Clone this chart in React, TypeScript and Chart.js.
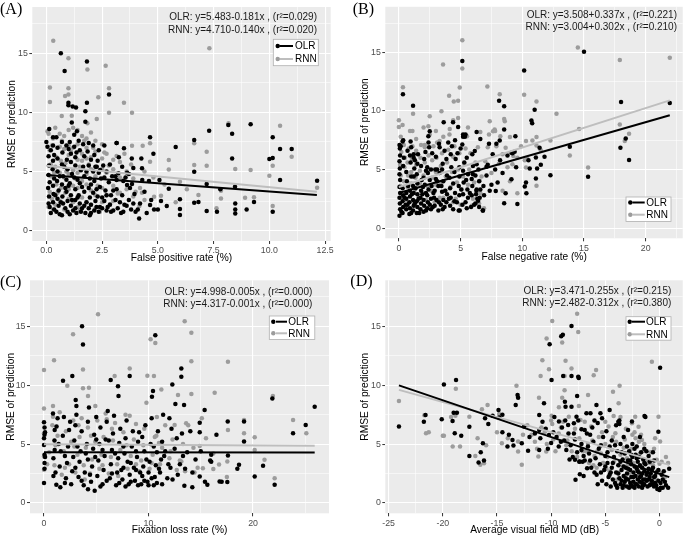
import React, { useEffect, useRef } from 'react';
import { Chart, registerables } from 'chart.js';
Chart.register(...registerables);

type Pt = [number, number];

// ---------- shared ----------
const yMajors = [0, 5, 10, 15];
const yTitle = 'RMSE of prediction';
const legendNames = ['OLR', 'RNN'];

// ---------- Panel A : False positive rate ----------
const fpXTicks = [0, 2.5, 5, 7.5, 10, 12.5];
const fpOlr: Pt[] = [
  [0.65,15.0],[0.82,13.5],[1.82,14.3],[1.82,10.8],[2.81,11.5],[0.99,10.8],[0.99,10.6],[1.18,10.5],[1.33,10.4],[1.14,9.15],[1.75,10.1],[1.75,9.2],[0.13,8.6],[0.0,7.5],[0.3,7.9],[1.37,8.4],[3.15,7.4],[4.65,7.9],[4.8,6.5],[5.8,7.07],[6.63,7.66],[7.3,8.45],[8.16,8.93],[8.33,8.2],[9.16,9.0],[8.33,6.1],[10.15,7.9],[10.0,6.05],[10.15,6.15],[10.48,6.9],[11.0,6.9],[10.48,4.28],[12.14,4.22],[6.63,4.98],[7.19,3.94],[7.19,1.66],[6.63,2.37],[6.82,2.42],[7.65,1.6],[7.8,3.5],[8.46,3.72],[8.47,2.3],[8.47,1.8],[8.47,1.46],[8.98,1.8],[9.31,2.42],[10.15,1.6],[5.99,2.65],[5.99,1.83],[5.99,1.32],[5.49,3.55],[5.4,2.08],[5.14,2.5],[5.0,1.8],[4.83,1.8],[4.65,2.17],[4.29,5.27],[4.3,4.28],[4.16,1.04],[3.84,3.94],[4.26,6.1],[3.83,6.1],[3.48,6.96],[3.15,4.28],[3.23,4.85],[3.62,4.9],[3.62,3.86],[2.41,5.13],[2.26,5.4],[5.07,4.28],[4.6,4.2],[4.7,2.6],[4.2,2.3],[4.0,1.6],[3.9,2.3],
  [0.05,7.1],[0.1,6.3],[0.12,5.5],[0.1,4.7],[0.15,4.1],[0.08,3.6],[0.12,2.9],[0.1,2.3],[0.15,2.0],[0.2,1.5],
  [0.3,7.2],[0.35,6.4],[0.3,5.9],[0.28,5.2],[0.35,4.4],[0.3,3.8],[0.32,3.1],[0.3,2.4],[0.35,1.8],
  [0.45,7.9],[0.5,7.0],[0.5,6.1],[0.5,5.0],[0.48,4.2],[0.55,3.4],[0.5,2.7],[0.55,2.1],[0.6,1.4],
  [0.7,7.5],[0.72,6.6],[0.7,5.6],[0.75,4.6],[0.7,3.9],[0.72,2.9],[0.75,2.3],[0.7,1.3],
  [0.9,7.2],[0.92,6.0],[0.95,5.2],[0.9,4.3],[0.9,3.3],[0.95,2.5],[0.95,1.6],
  [1.05,7.5],[1.1,6.5],[1.1,5.8],[1.05,4.0],[1.1,3.0],[1.1,2.1],[1.05,1.4],
  [1.25,8.1],[1.25,7.1],[1.3,6.2],[1.3,5.5],[1.25,4.5],[1.3,3.5],[1.3,2.6],[1.3,1.9],[1.35,1.5],
  [1.45,7.6],[1.5,6.8],[1.5,4.0],[1.45,3.0],[1.5,2.3],[1.55,1.6],
  [1.65,7.3],[1.7,6.3],[1.65,5.4],[1.7,4.6],[1.7,3.3],[1.7,2.1],[1.75,1.5],
  [1.9,7.4],[1.85,6.7],[1.9,5.5],[1.95,4.4],[1.9,3.6],[1.95,2.8],[1.9,1.9],[1.95,1.3],
  [2.1,7.2],[2.15,6.4],[2.1,5.0],[2.15,4.2],[2.1,3.2],[2.2,2.5],[2.15,1.7],
  [2.35,6.8],[2.3,5.9],[2.35,4.9],[2.4,3.7],[2.3,2.9],[2.4,2.0],[2.35,1.6],
  [2.6,7.2],[2.55,5.5],[2.6,4.5],[2.65,3.4],[2.6,2.5],[2.7,1.7],
  [2.85,5.6],[2.8,4.1],[2.9,3.0],[2.85,2.2],[2.9,1.6],
  [3.1,4.6],[3.15,3.5],[3.1,2.6],[3.2,1.9],[3.15,7.4],
  [3.4,5.4],[3.45,4.2],[3.4,3.0],[3.5,2.2],[3.45,1.6],
  [3.7,4.8],[3.75,3.6],[3.7,2.6],[3.8,1.8],
  [0.2,6.8],[0.4,3.0],[0.45,1.6],[0.6,4.6],[0.65,2.4],[0.8,5.4],[0.85,3.6],[0.85,1.9],[1.0,6.9],[1.0,3.8],[1.15,4.8],[1.15,2.6],[1.2,1.7],[1.35,6.6],[1.4,4.3],[1.4,2.8],[1.55,5.1],[1.6,3.7],[1.6,1.9],[1.8,5.0],[1.8,2.4],[2.0,6.0],[2.0,3.9],[2.0,2.2],[2.0,1.5],[2.2,5.4],[2.25,3.5],[2.25,2.0],[2.45,4.4],[2.5,2.8],[2.5,1.9],[2.7,5.0],[2.7,3.0],[2.75,2.0],[2.95,4.6],[3.0,3.4],[3.0,1.7],[3.25,6.2],[3.3,2.4],[3.35,1.5],[3.55,4.5],[3.6,2.1],[3.9,5.3],[3.95,3.1],[4.1,1.8],[4.4,3.3],[4.5,1.5]
];
const fpRnn: Pt[] = [
  [0.31,16.05],[0.16,12.1],[0.16,10.87],[0.99,14.56],[0.99,12.03],[0.99,11.5],[0.84,11.38],[0.69,9.7],[1.14,9.72],[1.84,13.63],[2.66,13.94],[2.81,12.03],[2.33,11.27],[3.48,10.82],[3.84,9.97],[2.81,9.97],[1.84,9.07],[2.26,9.44],[7.31,15.41],[8.17,9.07],[10.48,8.87],[11.0,6.25],[10.0,4.65],[10.15,5.49],[10.15,2.08],[12.14,3.63],[9.16,5.13],[8.47,5.21],[6.63,7.38],[6.63,5.55],[7.19,6.68],[7.19,5.49],[7.83,2.73],[7.83,3.38],[7.63,1.89],[5.99,4.14],[5.49,5.97],[5.49,5.18],[4.65,7.38],[4.65,5.83],[4.32,7.18],[3.84,7.18],[3.15,6.31],[3.48,4.28],[4.83,2.87],[5.14,2.96],[4.29,3.21],[4.17,2.08],[6.82,3.01],[8.91,2.79],[9.31,2.82],[2.86,2.25],[3.2,3.15],
  [0.05,8.4],[0.1,8.2],[0.15,6.8],[0.2,5.6],[0.2,4.6],[0.15,3.3],[0.25,2.7],[0.3,7.8],[0.4,8.7],[0.45,6.2],[0.4,5.4],[0.45,3.9],[0.4,2.2],[0.6,8.2],[0.6,7.1],[0.65,5.9],[0.6,4.9],[0.65,3.6],[0.6,2.5],[0.8,8.0],[0.8,6.9],[0.85,5.7],[0.8,4.5],[0.85,3.2],[0.8,1.8],[1.0,8.5],[1.0,7.2],[1.0,6.4],[1.0,4.8],[1.0,3.5],[1.0,2.7],[1.2,8.7],[1.2,7.0],[1.2,5.1],[1.2,3.8],[1.2,2.4],[1.4,8.5],[1.4,7.3],[1.4,6.0],[1.4,4.9],[1.4,3.6],[1.4,2.0],[1.6,8.0],[1.6,6.5],[1.6,5.9],[1.6,4.2],[1.6,2.8],[1.8,7.8],[1.8,7.0],[1.8,6.1],[1.8,4.8],[1.8,3.9],[1.8,2.4],[2.0,8.3],[2.0,6.2],[2.0,5.2],[2.0,3.4],[2.0,2.2],[2.2,7.6],[2.2,6.7],[2.2,4.6],[2.2,3.0],[2.2,1.9],[2.5,7.3],[2.5,6.1],[2.5,5.2],[2.5,3.6],[2.5,2.4],[2.7,6.5],[2.7,4.9],[2.7,3.0],[3.0,6.0],[3.0,5.2],[3.0,3.8],[3.0,2.5],[3.3,5.8],[3.3,4.5],[3.3,3.2],[3.6,5.0],[3.6,3.5],[3.9,4.4],[3.9,2.9],[4.2,3.6],[4.4,2.6],
  [0.25,7.2],[0.35,4.9],[0.5,3.2],[0.7,7.6],[0.9,5.0],[1.1,6.7],[1.3,4.4],[1.5,5.4],[1.7,7.6],[1.9,5.6],[2.1,7.0],[2.3,3.8],[2.6,6.6],[2.8,5.5],[3.1,4.4],[3.5,6.5],[3.8,5.6],[4.0,3.3],[4.4,5.0],[4.8,4.5],[5.3,3.9],[5.8,2.4],[6.3,3.5],[0.1,2.0],[0.3,1.8],[1.5,1.7],[2.4,1.6]
];
const fpBlackFit = [4.710, -0.140];
const fpGrayFit = [5.483, -0.181];
const fpFitRange = [0, 12.13];
const fpNotes = ['OLR: y=5.483-0.181x , (r\u00B2=0.029)', 'RNN: y=4.710-0.140x , (r\u00B2=0.020)'];

// ---------- Panel B : False negative rate ----------
const fnXTicks = [0, 5, 10, 15, 20];
const fnOlr: Pt[] = [
  [15.0,15.05],[5.14,14.27],[10.15,13.45],[0.33,11.44],[1.15,10.45],[8.12,10.88],[8.53,10.4],[11.0,10.11],[10.74,9.18],[10.8,8.95],[4.39,9.04],[3.63,9.04],[4.8,8.64],[2.5,8.28],[2.39,7.85],[5.4,8.0],[8.53,8.42],[8.17,7.49],[7.9,7.2],[9.12,6.44],[9.38,6.53],[9.44,7.85],[11.4,6.86],[11.8,6.1],[11.1,6.02],[11.1,4.24],[10.2,3.56],[10.33,2.97],[9.12,4.18],[8.65,2.97],[8.53,2.12],[9.6,2.06],[12.28,4.52],[13.85,6.95],[15.33,4.38],[17.95,6.86],[18.0,10.76],[18.38,7.66],[18.65,5.82],[21.95,10.68],[7.1,5.25],[7.36,3.19],[7.85,3.16],[6.81,1.5],[6.42,2.34],[6.28,3.19],[6.0,4.6],[6.3,5.45],[6.15,6.58],[5.14,7.15],[5.2,8.0],[4.93,1.5],
  [0.05,1.05],[0.1,1.6],[0.08,2.1],[0.05,2.6],[0.1,3.0],[0.05,3.5],[0.1,4.1],[0.05,4.6],[0.08,5.1],[0.05,5.7],[0.1,6.2],[0.08,6.8],[0.05,7.1],[0.15,7.0],
  [0.3,1.3],[0.35,1.8],[0.3,2.3],[0.35,2.8],[0.3,3.4],[0.35,5.3],[0.3,7.4],[0.35,7.5],
  [0.6,1.6],[0.55,2.0],[0.6,2.5],[0.6,3.0],[0.65,4.0],[0.6,4.8],
  [0.85,1.2],[0.9,1.7],[0.85,2.2],[0.9,2.7],[0.9,3.2],[0.95,5.6],[0.9,6.2],[0.95,7.4],[1.0,6.9],
  [1.15,1.5],[1.2,1.9],[1.15,2.4],[1.2,3.0],[1.15,3.6],[1.2,4.4],[1.25,5.1],[1.2,6.0],[1.2,6.3],[1.3,5.8],
  [1.45,1.3],[1.5,1.8],[1.45,2.3],[1.5,2.9],[1.5,3.8],[1.45,4.6],[1.55,6.3],
  [1.75,1.6],[1.8,2.1],[1.75,2.6],[1.8,3.2],[1.85,4.1],[1.8,5.3],
  [2.0,1.4],[2.05,1.9],[2.0,2.4],[2.1,3.7],[2.0,4.3],[2.15,6.5],[2.05,5.9],
  [2.3,1.7],[2.35,2.2],[2.3,2.8],[2.4,3.3],[2.35,4.7],[2.3,5.2],[2.4,7.3],[2.45,6.9],
  [2.6,1.6],[2.6,2.5],[2.65,3.6],[2.6,5.0],[2.7,6.4],
  [2.9,1.9],[2.85,2.6],[2.9,3.2],[3.0,4.2],[2.95,5.0],[3.0,6.1],[3.1,5.0],
  [3.2,1.5],[3.25,2.2],[3.2,3.6],[3.3,4.7],[3.3,6.9],[3.25,7.2],
  [3.55,1.6],[3.6,2.4],[3.5,3.1],[3.6,4.0],[3.55,5.5],[3.7,6.6],
  [3.85,2.2],[3.9,2.9],[3.9,4.5],[3.85,5.9],[4.0,7.3],
  [4.15,1.9],[4.2,2.6],[4.15,3.4],[4.25,5.2],[4.2,6.3],[4.3,7.0],
  [4.5,2.3],[4.55,3.0],[4.5,4.8],[4.6,5.9],[4.55,7.5],
  [4.85,1.5],[4.9,2.8],[4.85,3.6],[4.9,4.4],[5.0,6.8],[4.9,5.2],
  [5.15,2.0],[5.2,2.9],[5.25,3.9],[5.2,4.9],[5.3,5.6],[5.2,7.8],[5.35,7.8],
  [5.5,1.7],[5.6,2.6],[5.55,3.3],[5.5,6.0],[5.6,4.6],
  [5.85,1.8],[5.9,2.8],[5.95,3.6],[5.9,4.2],[6.0,5.3],[5.95,6.3],
  [6.2,2.1],[6.3,3.3],[6.2,4.5],[6.3,8.2],[6.25,2.9],
  [6.5,1.8],[6.55,2.6],[6.5,4.0],[6.6,7.6],[6.45,5.0],
  [6.8,1.5],[6.85,3.6],[7.1,4.5],[7.2,5.4],[7.3,7.2],[7.5,3.7],[7.6,6.3],[7.8,5.0],[8.0,3.9],[8.2,5.8],[8.4,4.7],[8.8,6.2],[9.2,6.4],[9.5,5.2],[10.3,3.9],[10.5,5.8],[10.6,5.1],[11.2,5.1],[11.5,5.4],
  [0.2,1.4],[0.45,2.6],[0.7,2.0],[0.75,3.6],[1.0,1.3],[1.05,2.9],[1.3,2.1],[1.35,3.4],[1.6,2.5],[1.65,1.3],[1.9,2.9],[1.95,3.5],[2.2,1.5],[2.2,3.0],[2.5,2.0],[2.5,4.1],[2.75,1.8],[2.8,3.0],[3.05,2.4],[3.1,4.0],[3.4,2.0],[3.45,3.6],[3.7,1.8],[3.75,3.2],[4.05,2.5],[4.1,4.3],[4.4,1.6],[4.4,3.8],[4.7,2.2],[4.75,6.4],[5.05,3.3],[5.4,2.2],[5.45,4.1],[5.75,3.0],[6.1,2.0],[6.35,2.5],[6.6,3.3],[6.9,2.8],[3.5,5.0],[2.2,4.9],[1.5,5.5],[0.7,6.6],[0.4,6.0],[1.0,4.4]
];
const fnRnn: Pt[] = [
  [5.14,16.05],[14.5,15.42],[3.58,13.98],[5.14,13.64],[0.33,12.03],[7.17,12.09],[4.93,12.0],[10.15,11.38],[8.17,11.44],[4.07,11.3],[4.45,10.82],[4.8,10.88],[11.15,10.82],[1.15,9.77],[3.45,9.97],[0.0,9.2],[0.0,8.64],[17.9,14.35],[21.95,14.55],[17.9,8.84],[18.65,8.05],[18.3,7.43],[15.33,5.17],[14.6,8.47],[13.85,6.21],[12.77,9.77],[12.28,7.49],[11.15,7.77],[10.82,7.49],[11.15,7.06],[11.5,6.64],[10.3,7.43],[10.3,5.17],[10.2,5.79],[11.15,3.62],[9.6,2.97],[9.0,7.77],[9.27,6.16],[9.2,5.45],[8.53,9.32],[8.58,9.12],[7.36,9.12],[7.63,8.28],[7.76,8.42],[8.22,7.85],[8.65,6.86],[8.4,6.3],[5.52,7.85],[4.8,9.41],[4.12,8.47],[2.5,9.55],[2.39,8.7],[2.09,7.09],[3.3,7.43],[6.55,4.04],
  [0.1,3.6],[0.15,4.5],[0.1,5.4],[0.2,6.5],[0.15,7.8],[0.4,4.0],[0.45,5.2],[0.5,6.0],[0.4,7.1],[0.7,3.5],[0.75,4.5],[0.7,5.6],[0.8,6.8],[0.9,8.3],[1.0,3.8],[1.0,4.8],[1.05,5.9],[1.1,7.0],[1.3,3.3],[1.35,4.3],[1.4,5.4],[1.4,6.6],[1.4,7.6],[1.7,3.8],[1.7,4.9],[1.75,6.0],[1.8,7.1],[2.0,3.0],[2.0,4.5],[2.1,5.6],[2.1,6.9],[2.3,3.6],[2.35,5.0],[2.4,6.2],[2.5,8.0],[2.6,3.2],[2.7,4.3],[2.7,5.8],[2.8,7.0],[3.0,3.7],[3.0,4.8],[3.05,6.0],[3.1,7.3],[3.3,2.6],[3.4,3.9],[3.4,5.3],[3.5,6.4],[3.6,7.8],[3.8,3.2],[3.8,4.4],[3.9,5.6],[4.0,6.7],[4.1,8.0],[4.2,3.5],[4.3,4.8],[4.4,6.1],[4.5,7.0],[4.6,2.5],[4.7,3.9],[4.8,5.0],[4.9,6.4],[5.1,3.3],[5.2,4.4],[5.3,5.5],[5.4,6.8],[5.6,3.7],[5.7,5.0],[5.8,6.4],[6.0,2.5],[6.1,3.9],[6.2,5.6],[6.4,6.9],[6.6,3.0],[6.7,4.4],[6.9,1.7],[7.0,5.7],[7.2,6.9],[7.5,4.7],[7.8,8.3],[8.1,5.5],[8.4,3.2],[9.0,4.0],[9.6,6.0],[10.4,5.9],
  [0.2,2.6],[0.6,2.4],[1.2,2.2],[1.6,2.6],[2.2,2.4],[2.9,2.2],[3.6,2.6],[4.4,2.2],[5.0,2.0],[5.9,1.9],[6.5,2.1],[0.3,8.8],[1.1,8.3],[2.0,8.6],[3.0,8.3],[4.4,9.2],[5.6,8.6],[6.6,8.2],[7.3,8.0],[7.9,7.0],[8.8,5.2],[9.9,7.0]
];
const fnBlackFit = [3.004, 0.302];
const fnGrayFit = [3.508, 0.337];
const fnFitRange = [0, 21.95];
const fnNotes = ['OLR: y=3.508+0.337x , (r\u00B2=0.221)', 'RNN: y=3.004+0.302x , (r\u00B2=0.210)'];

// ---------- Panel C : Fixation loss rate ----------
const flXTicks = [0, 10, 20];
const flOlr: Pt[] = [
  [3.64,15.0],[3.73,13.45],[10.65,14.24],[1.82,10.38],[2.71,10.77],[6.38,10.43],[7.08,9.92],[8.2,10.77],[12.28,10.06],[13.14,11.42],[13.14,10.71],[10.43,9.5],[10.33,9.02],[7.13,9.08],[3.03,8.74],[3.1,8.23],[13.4,8.32],[12.57,8.4],[15.37,7.89],[14.9,6.82],[14.9,6.0],[17.58,6.91],[17.6,4.03],[16.0,4.09],[15.9,3.61],[19.14,5.22],[19.14,6.91],[18.66,3.24],[18.5,2.9],[20.16,2.26],[20.96,3.16],[21.85,8.88],[23.83,5.92],[25.04,6.63],[25.9,8.18],[22.07,1.55],[17.54,1.78],[16.8,1.83],[15.63,1.55],[14.9,2.26],[14.19,1.33],[13.43,1.47],[0,1.7],[0,6.85],[0,4.93],[0,5.5],[0.86,7.6],[1.02,6.2],[1.02,4.5],[1.18,1.55],[1.56,1.33],[4.21,1.18],[4.85,1.04],
  [0.05,2.9],[0.05,3.4],[0.05,4.1],[0.05,5.8],[0.05,6.4],[0.9,2.3],[0.9,3.8],[1.0,5.3],[1.2,6.5],[1.3,7.2],[1.5,3.1],[1.6,4.4],[1.8,5.7],[1.9,7.3],[2.1,2.1],[2.2,3.4],[2.3,4.8],[2.4,6.2],[2.6,1.6],[2.7,2.7],[2.8,3.9],[2.9,5.3],[3.0,6.6],[3.1,7.5],[3.3,2.2],[3.4,3.5],[3.5,4.4],[3.6,6.1],[3.8,1.5],[3.9,2.6],[4.0,4.2],[4.1,5.0],[4.2,6.9],[4.3,8.1],[4.5,1.8],[4.6,3.1],[4.7,4.6],[4.8,5.8],[5.0,7.3],[5.1,2.3],[5.2,3.6],[5.3,5.0],[5.4,6.4],[5.6,1.6],[5.7,2.8],[5.8,4.0],[5.9,5.4],[6.0,6.9],[6.1,7.8],[6.3,2.1],[6.4,3.3],[6.5,4.5],[6.6,5.9],[6.7,7.4],[6.9,1.5],[7.0,2.6],[7.1,3.8],[7.2,5.1],[7.3,6.3],[7.5,2.0],[7.6,3.0],[7.7,4.2],[7.8,5.5],[7.9,7.0],[8.1,1.6],[8.2,2.4],[8.3,3.4],[8.4,4.8],[8.5,6.1],[8.7,1.9],[8.8,2.8],[8.9,3.9],[9.0,5.2],[9.1,6.0],[9.3,1.6],[9.4,2.3],[9.5,3.1],[9.6,4.4],[9.7,6.6],[9.9,1.8],[10.0,2.6],[10.1,3.5],[10.2,5.0],[10.3,7.2],[10.5,1.5],[10.6,2.2],[10.7,3.2],[10.8,4.3],[10.9,6.1],[11.1,2.6],[11.2,3.7],[11.3,5.2],[11.4,7.5],[11.6,4.4],[11.8,2.1],[12.0,7.2],[12.1,3.0],[12.2,6.3],[12.5,4.6],[12.8,2.4],[13.0,3.3],[13.2,5.9],[13.5,2.9],[13.7,4.3],[14.0,6.1],[14.2,2.6],[14.5,3.7],[15.0,4.4],[15.4,1.8],[16.0,3.5],[16.5,5.8],[17.0,1.8],
  [0.1,3.9],[0.1,6.0],[1.1,2.6],[1.4,5.0],[2.0,1.7],[2.5,6.9],[3.2,4.8],[3.6,1.9],[4.4,2.4],[4.9,3.9],[5.4,1.4],[5.6,4.5],[6.0,1.9],[6.2,5.3],[6.5,2.5],[6.8,4.2],[7.2,1.7],[7.4,2.8],[7.6,4.8],[7.8,1.4],[8.0,3.5],[8.3,1.8],[8.6,3.0],[8.8,4.4],[9.0,1.5],[9.2,2.6],[9.4,5.6],[9.6,1.9],[9.8,3.7],[10.0,1.5],[10.3,2.1],[10.5,4.8],[10.8,1.7],[11.0,2.9],[11.3,1.6],[11.5,4.0],[11.9,3.3],[12.3,2.0],[12.7,5.5],[13.3,4.0],[5.0,5.4],[4.2,3.7],[3.0,3.0],[2.0,4.0]
];
const flRnn: Pt[] = [
  [5.17,16.01],[2.78,14.32],[13.46,15.42],[14.1,14.46],[10.2,13.9],[10.65,13.59],[0,11.28],[0.96,12.12],[3.73,11.33],[14.1,12.04],[17.6,11.98],[2.23,9.95],[3.73,9.73],[4.3,9.78],[6.76,10.77],[8.2,11.42],[10.52,10.77],[9.89,10.8],[11.23,9.64],[12.82,9.16],[14.1,9.25],[16.33,9.36],[4.21,9.08],[4.91,8.23],[0,8.03],[0.86,8.23],[0.86,7.33],[21.9,9.08],[23.83,7.05],[25.1,5.92],[19.14,7.05],[19.14,5.92],[20.16,5.58],[20.16,4.51],[21.1,3.67],[22.07,2.11],[17.6,6.2],[17.54,3.52],[16.75,3.27],[16.2,2.88],[15.2,2.96],[15.1,7.19],[14.9,4.85],[13.6,6.77],[12.5,6.63],[13.14,3.52],[14.4,2.59],[10.75,5.7],[0,2.82],[0,3.95],[0,5.92],
  [0.5,4.3],[0.8,6.6],[1.0,3.2],[1.3,5.7],[1.5,7.7],[1.7,2.4],[1.9,4.4],[2.1,6.1],[2.4,3.3],[2.6,5.2],[2.8,7.0],[3.0,2.6],[3.2,4.1],[3.4,5.6],[3.6,7.2],[3.8,3.2],[4.0,4.7],[4.2,6.4],[4.4,2.5],[4.6,3.7],[4.9,5.2],[5.1,7.0],[5.3,2.9],[5.5,4.1],[5.7,5.6],[5.9,7.6],[6.2,2.5],[6.4,3.9],[6.6,5.3],[6.8,6.8],[7.0,3.3],[7.3,4.5],[7.6,6.0],[7.8,7.5],[8.0,2.9],[8.3,4.0],[8.6,5.4],[8.8,6.7],[9.1,2.7],[9.3,3.6],[9.5,4.9],[9.8,8.5],[10.1,2.9],[10.4,4.1],[10.6,5.6],[10.8,7.3],[11.1,3.3],[11.3,4.7],[11.6,6.6],[12.0,3.8],[12.3,5.4],[12.7,2.8],[13.0,3.6],[13.3,5.0],[13.8,6.6],[14.3,4.7],[14.7,3.0],[15.5,5.5],[16.2,4.2],[17.5,2.2],
  [0.3,3.3],[1.1,4.9],[2.0,3.0],[2.9,4.8],[3.9,2.0],[4.5,5.7],[5.6,3.2],[6.5,6.3],[7.1,2.3],[7.9,4.9],[8.8,3.3],[9.6,6.3],[10.3,3.4],[11.0,5.1],[12.1,4.4],[13.5,2.7],[8.2,7.4],[6.0,7.1],[3.3,6.6]
];
const flBlackFit = [4.317, -0.001];
const flGrayFit = [4.998, -0.005];
const flFitRange = [0, 25.9];
const flNotes = ['OLR: y=4.998-0.005x , (r\u00B2=0.000)', 'RNN: y=4.317-0.001x , (r\u00B2=0.000)'];

// ---------- Panel D : Average visual field MD ----------
const mdXTicks = [-25, -20, -15, -10, -5, 0];
const mdOlr: Pt[] = [
  [-8.12,15.03],[-8.92,14.29],[-9.07,14.15],[-10.14,13.48],[-9.96,10.43],[-8.89,10.77],[-8.12,10.77],[-7.5,10.71],[-7.45,10.6],[0.06,11.47],[-18.78,10.43],[-19.9,10.06],[-19.0,7.67],[-18.7,7.67],[-19.1,6.96],[-18.9,5.92],[-18.3,5.72],[-20.1,7.1],[-21.6,7.47],[-21.75,6.9],[-24.05,6.5],
  [-17.55,4.0],[-16.7,3.44],[-16.5,4.31],[-16.3,5.07],[-16.2,3.6],[-16.1,7.19],[-17.55,6.48],[-14.86,7.89],[-14.8,7.25],[-14.03,4.79],[-14.5,6.0],[-13.57,5.36],[-13.48,4.88],[-13.1,9.16],[-13.05,8.94],[-13.27,8.32],[-12.71,5.07],[-12.13,4.43],[-11.1,7.47],[-11.1,4.51],[-11.1,6.2],[-10.66,8.46],[-10.2,5.78],[-9.28,6.91],[-8.73,8.6],[-8.67,8.18],[-8.43,6.63],[-8.12,8.18],[-7.9,6.77],[-7.66,7.33],[-7.6,9.08],[-7.2,6.26],[-6.74,7.61],[-6.37,7.61],[-5.82,8.32],[-5.45,7.61],[-4.6,7.89],[-2.54,6.91],[-1.38,7.39],[-0.1,6.06],[-7.75,1.97],[-7.35,2.45],[-7.38,3.52],[-7.8,3.67],[-6.68,2.96],
  [-11.5,5.9],[-11.0,5.5],[-10.5,6.3],[-10.0,5.1],[-9.8,6.0],[-9.5,5.6],[-9.3,4.8],[-9.0,6.4],[-8.8,5.3],[-8.6,4.5],[-8.4,5.9],[-8.2,4.9],[-8.0,3.9],[-7.8,5.4],[-7.6,4.3],[-7.4,3.5],[-7.2,5.0],[-7.0,4.0],[-6.9,6.2],[-6.6,4.8],
  [-6.5,4.2],[-6.3,3.0],[-6.1,5.2],[-5.9,3.8],[-5.8,2.4],[-5.6,4.6],[-5.5,3.3],[-5.3,1.9],[-5.2,5.6],[-5.1,2.8],[-5.0,4.0],[-4.9,1.6],[-4.8,3.4],[-4.7,2.2],[-4.6,4.8],[-4.5,1.4],[-4.4,3.0],[-4.3,2.0],[-4.2,3.9],[-4.1,1.7],[-4.0,2.6],[-3.9,4.4],[-3.9,1.3],[-3.8,3.2],[-3.7,2.1],[-3.6,5.0],[-3.6,1.6],[-3.5,2.8],[-3.4,3.7],[-3.4,1.3],[-3.3,2.3],[-3.2,4.2],[-3.2,1.8],[-3.1,3.0],[-3.0,1.4],[-3.0,2.5],[-2.9,3.6],[-2.9,2.0],[-2.8,1.3],[-2.8,4.4],[-2.7,2.8],[-2.7,1.7],[-2.6,3.3],[-2.6,2.2],[-2.5,1.4],[-2.5,3.9],[-2.4,2.6],[-2.4,1.8],[-2.3,3.1],[-2.3,1.3],[-2.2,2.3],[-2.2,4.1],[-2.1,1.6],[-2.1,2.9],[-2.0,3.5],[-2.0,2.0],[-1.9,1.4],[-1.9,2.6],[-1.8,3.2],[-1.8,1.8],[-1.7,4.3],[-1.7,2.3],[-1.6,1.3],[-1.6,3.0],[-1.5,2.0],[-1.5,3.7],[-1.4,1.6],[-1.4,2.7],[-1.3,3.3],[-1.2,1.9],[-1.2,2.4],[-1.1,1.4],[-1.0,2.9],[-1.0,2.0],[-0.9,3.5],[-0.8,1.6],[-0.8,2.5],[-0.7,1.9],[-0.6,3.0],[-0.5,1.4],[-0.5,2.2],[-0.4,1.7],[-0.3,2.6],[-0.2,1.2],[-0.1,1.9],[0.0,1.1],[0.1,1.7],[0.2,2.4],[0.3,1.3],[0.5,1.8],[0.8,1.3],[0.9,2.9],
  [-6.9,3.6],[-7.2,4.5],[-7.0,2.3],[-6.7,5.9],[-6.2,6.4],[-5.7,6.8],[-5.3,7.2],[-4.9,6.1],[-4.4,5.3],[-4.0,6.6],[-3.7,7.0],[-3.3,5.6],[-2.9,6.2],[-2.5,5.0],[-2.1,4.8],[-1.8,5.6],[-1.4,4.6],[-1.0,4.0],[-0.6,4.3],[-3.8,6.9],[-1.3,7.3],[-3.7,6.7],
  [-5.7,1.6],[-5.4,2.6],[-5.0,3.1],[-4.6,2.4],[-4.3,3.4],[-4.0,1.5],[-3.8,2.5],[-3.5,1.9],[-3.3,3.1],[-3.1,2.1],[-2.9,2.9],[-2.7,3.6],[-2.6,1.5],[-2.4,2.2],[-2.3,4.6],[-2.2,1.6],[-2.0,2.7],[-1.9,3.9],[-1.8,2.2],[-1.6,2.5],[-1.5,1.5],[-1.4,3.4],[-1.3,2.0],[-1.1,2.6],[-0.9,1.5],[-0.9,2.2],[-0.7,2.8],[-0.6,1.6],[-0.4,2.3],[-0.3,1.5],[-0.1,2.8],[0.1,1.3],[0.3,2.0],[0.6,1.5],[-4.8,4.3],[-4.1,4.9],[-3.5,4.3],[-3.0,4.8],[-2.6,4.1],[-1.2,4.4],[-5.4,4.9],[-6.0,2.6],[-6.4,3.6],[-3.6,3.5],[-4.5,2.6],[-3.3,1.5],[-2.1,3.8],[-1.6,1.7],[-0.5,3.6],[0.4,2.7],
  [-10.8,6.9],[-10.3,4.6],[-9.7,7.3],[-9.1,5.2],[-8.7,7.0],[-8.3,3.7],[-7.9,5.9],[-7.5,7.0],[-7.1,3.5],[-6.4,5.8],[-6.0,7.0],[-12.5,6.5],[-12.0,5.6],[-13.9,5.8],[-15.4,7.4],[-15.8,6.7],[-14.5,7.5]
];
const mdRnn: Pt[] = [
  [-9.9,15.45],[-7.6,16.07],[-7.5,14.52],[-10.42,13.96],[-8.98,13.62],[-10.81,12.12],[-8.67,12.07],[-10.2,11.36],[-8.12,11.42],[-6.07,10.85],[-5.85,11.28],[-10.97,10.77],[-8.76,10.77],[-3.68,9.95],[-4.29,9.44],[-3.77,8.46],[-0.7,11.98],[-0.09,7.33],[0.06,5.22],[-24.05,8.66],[-21.7,7.45],[-21.55,5.92],[-19.9,5.7],[-19.24,7.3],[-19.09,4.79],[-18.84,7.41],[-18.41,4.79],[-18.8,9.7],[-17.55,7.33],[-16.79,5.5],[-16.54,3.24],[-16.2,3.38],[-16.39,7.95],[-15.87,8.32],[-14.8,7.56],[-14.55,5.07],[-13.2,9.95],[-13.05,5.22],[-13.05,4.37],[-12.71,3.24],[-11.12,8.94],[-11.18,3.95],[-10.45,4.37],[-9.96,7.41],[-9.9,6.71],[-9.28,8.12],[-8.76,9.58],[-8.98,8.94],[-8.37,7.33],[-7.44,8.23],[-7.29,7.05],[-6.59,9.16],[-5.76,4.37],[-4.23,7.39],[-4.07,5.92],[-2.54,6.77],[-2.24,7.33],[-1.93,6.48],[-1.62,5.36],[-0.25,3.67],[0.0,3.33],
  [-11.8,5.8],[-11.3,4.6],[-10.9,6.4],[-10.4,5.0],[-10.0,7.0],[-9.6,4.4],[-9.3,5.9],[-8.9,6.9],[-8.5,5.3],[-8.1,4.4],[-7.8,6.3],[-7.4,5.5],[-7.1,4.4],[-6.9,6.9],[-12.2,6.6],[-12.6,5.8],[-15.0,6.0],[-14.0,5.5],[-17.0,4.0],[-16.0,4.9],[-20.0,5.7],[-21.3,6.0],
  [-6.8,4.4],[-6.5,3.4],[-6.2,5.3],[-6.0,4.0],[-5.8,3.0],[-5.6,5.6],[-5.4,4.2],[-5.2,3.4],[-5.0,5.0],[-4.8,3.9],[-4.6,2.7],[-4.4,4.5],[-4.2,3.5],[-4.0,5.2],[-3.8,2.6],[-3.6,4.1],[-3.4,3.1],[-3.2,5.4],[-3.0,3.8],[-2.8,2.5],[-2.6,4.6],[-2.4,3.4],[-2.2,5.5],[-2.0,2.8],[-1.8,4.2],[-1.6,3.0],[-1.4,5.0],[-1.2,3.6],[-1.0,2.4],[-0.8,4.3],[-0.6,3.2],[-0.4,5.5],[-0.2,2.7],[0.2,3.5],[0.5,2.2],[0.8,3.4],[-3.1,6.3],[-4.7,6.5],[-2.3,6.0],[-1.7,5.8],[-5.3,6.0],[-3.9,2.0],[-2.7,1.8],[-1.1,1.9],[-0.3,2.0],
  [-6.6,5.0],[-6.1,3.2],[-5.5,4.8],[-4.9,2.9],[-4.3,5.6],[-3.7,3.2],[-3.3,4.7],[-2.9,3.3],[-2.5,5.8],[-2.1,3.9],[-1.5,4.4],[-0.9,3.4],[-0.5,4.6],[0.0,2.6],[0.6,3.9],[-7.6,3.9],[-8.6,4.9],[-9.1,6.4],[-9.8,5.4],[-10.6,6.0],[-11.5,5.2],[-6.3,6.5],[-5.0,6.9],[-3.6,7.3],[-1.9,5.2]
];
const mdBlackFit = [2.482, -0.312];
const mdGrayFit = [3.471, -0.255];
const mdFitRange = [-24.05, 0.9];
const mdNotes = ['OLR: y=3.471-0.255x , (r\u00B2=0.215)', 'RNN: y=2.482-0.312x , (r\u00B2=0.380)'];

// ---------- layout ----------
const SANS = '"Liberation Sans", Arial, Helvetica, sans-serif';
const SERIF = '"Liberation Serif", "Times New Roman", serif';
const Y_MIN = -0.87, Y_MAX = 18.9;

interface Panel {
  key: string; label: string; labelX: number; labelBase: number;
  canvas: { x: number; y: number; w: number; h: number };
  plot: { l: number; r: number; t: number; b: number };
  xMin: number; xMax: number; xMajors: number[]; fmt: (v: number) => string;
  olr: Pt[]; rnn: Pt[]; black: number[]; gray: number[]; range: number[];
  xTitle: string; xTitleY: number; yTitleX: number;
  notes: string[]; noteRight: number; noteY: number[];
  legend: { x: number; y: number; w: number; h: number; rows: number[]; dotX: number; l0: number; l1: number; tx: number };
}

const panels: Panel[] = [
  { key: 'A', label: '(A)', labelX: 0, labelBase: 14, canvas: { x: 0, y: 0, w: 342, h: 270 },
    plot: { l: 32.3, r: 330.7, t: 7, b: 241 }, xMin: -0.63, xMax: 12.75, xMajors: fpXTicks, fmt: v => v.toFixed(1),
    olr: fpOlr, rnn: fpRnn, black: fpBlackFit, gray: fpGrayFit, range: fpFitRange,
    xTitle: 'False positive rate (%)', xTitleY: 258, yTitleX: 12.5,
    notes: fpNotes, noteRight: 317, noteY: [17.3, 30],
    legend: { x: 273.3, y: 39.3, w: 45, h: 26.4, rows: [46, 59], dotX: 277.7, l0: 279.3, l1: 293, tx: 295 } },
  { key: 'B', label: '(B)', labelX: 352.7, labelBase: 14, canvas: { x: 342, y: 0, w: 343, h: 270 },
    plot: { l: 385.3, r: 683, t: 6, b: 238.3 }, xMin: -1.1, xMax: 23.0, xMajors: fnXTicks, fmt: v => String(v),
    olr: fnOlr, rnn: fnRnn, black: fnBlackFit, gray: fnGrayFit, range: fnFitRange,
    xTitle: 'False negative rate (%)', xTitleY: 257.5, yTitleX: 365.5,
    notes: fnNotes, noteRight: 677, noteY: [15, 27.7],
    legend: { x: 626, y: 197, w: 45, h: 24.5, rows: [202.5, 214.7], dotX: 630.3, l0: 632.3, l1: 644.7, tx: 646.3 } },
  { key: 'C', label: '(C)', labelX: 0, labelBase: 286.5, canvas: { x: 0, y: 270, w: 342, h: 269 },
    plot: { l: 30, r: 329, t: 280.3, b: 513.3 }, xMin: -1.34, xMax: 27.27, xMajors: flXTicks, fmt: v => String(v),
    olr: flOlr, rnn: flRnn, black: flBlackFit, gray: flGrayFit, range: flFitRange,
    xTitle: 'Fixation loss rate (%)', xTitleY: 530.5, yTitleX: 11,
    notes: flNotes, noteRight: 312.3, noteY: [292.7, 304],
    legend: { x: 269.3, y: 316, w: 45.5, h: 23.5, rows: [321.7, 333.3], dotX: 273.3, l0: 276, l1: 287, tx: 288.3 } },
  { key: 'D', label: '(D)', labelX: 350.3, labelBase: 286, canvas: { x: 342, y: 270, w: 343, h: 269 },
    plot: { l: 385.3, r: 684, t: 280.3, b: 513.3 }, xMin: -25.31, xMax: 2.15, xMajors: mdXTicks, fmt: v => String(v),
    olr: mdOlr, rnn: mdRnn, black: mdBlackFit, gray: mdGrayFit, range: mdFitRange,
    xTitle: 'Average visual field MD (dB)', xTitleY: 530.5, yTitleX: 365.5,
    notes: mdNotes, noteRight: 671.3, noteY: [291.7, 303],
    legend: { x: 626, y: 316.7, w: 45, h: 23.5, rows: [321.7, 334.3], dotX: 629.7, l0: 632, l1: 645, tx: 646 } },
];

function withMinors(majors: number[], min: number, max: number): number[] {
  const step = majors[1] - majors[0];
  const out: number[] = [];
  for (let v = majors[0] - step; v <= max + 1e-9; v += step / 2) {
    if (v >= min - 1e-9) out.push(Math.round(v * 1000) / 1000);
  }
  return out;
}
const isIn = (arr: number[], v: number) => arr.some(m => Math.abs(m - v) < 1e-6);

function decor(p: Panel) {
  const ox = p.canvas.x, oy = p.canvas.y;
  return {
    id: 'decor' + p.key,
    beforeDraw(chart: any) {
      const { ctx, chartArea: a } = chart;
      ctx.save();
      ctx.fillStyle = '#EBEBEB';
      ctx.fillRect(a.left, a.top, a.right - a.left, a.bottom - a.top);
      ctx.restore();
    },
    afterDraw(chart: any) {
      const ctx = chart.ctx as CanvasRenderingContext2D;
      ctx.save();
      ctx.fillStyle = '#000';
      ctx.font = `16px ${SERIF}`;
      ctx.textAlign = 'left'; ctx.textBaseline = 'alphabetic';
      ctx.fillText(p.label, p.labelX - ox, p.labelBase - oy);

      ctx.font = `10.2px ${SANS}`;
      ctx.textAlign = 'center'; ctx.textBaseline = 'middle';
      ctx.fillText(p.xTitle, (p.plot.l + p.plot.r) / 2 - ox, p.xTitleY - oy);
      ctx.save();
      ctx.translate(p.yTitleX - ox, (p.plot.t + p.plot.b) / 2 - oy);
      ctx.rotate(-Math.PI / 2);
      ctx.fillText(yTitle, 0, 0);
      ctx.restore();

      ctx.font = `10px ${SANS}`;
      ctx.fillStyle = '#1A1A1A';
      ctx.textAlign = 'right';
      p.notes.forEach((t, i) => ctx.fillText(t, p.noteRight - ox, p.noteY[i] - oy));

      const L = p.legend;
      ctx.fillStyle = '#FFFFFF';
      ctx.fillRect(L.x - ox, L.y - oy, L.w, L.h);
      ctx.strokeStyle = '#B0B0B0'; ctx.lineWidth = 0.8;
      ctx.strokeRect(L.x - ox, L.y - oy, L.w, L.h);
      const styles = [{ dot: '#000000', line: '#000000' }, { dot: '#9C9C9C', line: '#BEBEBE' }];
      legendNames.forEach((name, i) => {
        const y = L.rows[i] - oy;
        ctx.strokeStyle = styles[i].line; ctx.lineWidth = 2;
        ctx.beginPath(); ctx.moveTo(L.l0 - ox, y); ctx.lineTo(L.l1 - ox, y); ctx.stroke();
        ctx.fillStyle = styles[i].dot;
        ctx.beginPath(); ctx.arc(L.dotX - ox, y, 2.2, 0, Math.PI * 2); ctx.fill();
        ctx.fillStyle = '#000';
        ctx.textAlign = 'left'; ctx.textBaseline = 'middle';
        ctx.fillText(name, L.tx - ox, y + 0.5);
      });
      ctx.restore();
    },
  };
}

function buildConfig(p: Panel): any {
  const xAll = withMinors(p.xMajors, p.xMin, p.xMax);
  const yAll = withMinors(yMajors, Y_MIN, Y_MAX);
  const fit = (f: number[]) => p.range.map(x => ({ x, y: f[0] + f[1] * x }));
  const pts = (a: Pt[]) => a.map(([x, y]) => ({ x, y }));
  const gridFor = (majors: number[]) => ({
    color: '#FFFFFF',
    lineWidth: (c: any) => (c.tick && isIn(majors, c.tick.value) ? 1.1 : 0.55),
    tickColor: (c: any) => (c.tick && isIn(majors, c.tick.value) ? '#333333' : 'rgba(0,0,0,0)'),
    tickWidth: 1,
    tickLength: 3,
    drawTicks: true,
  });
  const tickFont = { family: SANS, size: 8.8 };
  return {
    type: 'scatter',
    data: {
      datasets: [
        { data: fit(p.black), showLine: true, borderColor: '#000000', borderWidth: 2, pointRadius: 0, fill: false },
        { data: fit(p.gray), showLine: true, borderColor: '#BEBEBE', borderWidth: 2, pointRadius: 0, fill: false },
        { data: pts(p.olr), backgroundColor: '#000000', borderWidth: 0, pointRadius: 2.25, pointHoverRadius: 2.25 },
        { data: pts(p.rnn), backgroundColor: '#9C9C9C', borderWidth: 0, pointRadius: 2.25, pointHoverRadius: 2.25 },
      ],
    },
    options: {
      animation: false,
      responsive: false,
      maintainAspectRatio: false,
      events: [],
      layout: { padding: { left: 0, bottom: 0, top: p.plot.t - p.canvas.y, right: p.canvas.x + p.canvas.w - p.plot.r } },
      plugins: { legend: { display: false }, tooltip: { enabled: false }, title: { display: false } },
      scales: {
        x: {
          type: 'linear', position: 'bottom', min: p.xMin, max: p.xMax,
          afterBuildTicks: (s: any) => { s.ticks = xAll.map(v => ({ value: v })); },
          afterFit: (s: any) => { s.height = p.canvas.y + p.canvas.h - p.plot.b; },
          ticks: {
            autoSkip: false, maxRotation: 0, minRotation: 0, padding: 1.5, color: '#4D4D4D', font: tickFont,
            callback: (v: number) => (isIn(p.xMajors, v) ? p.fmt(v) : ''),
          },
          grid: gridFor(p.xMajors),
          border: { display: false },
        },
        y: {
          type: 'linear', position: 'left', min: Y_MIN, max: Y_MAX,
          afterBuildTicks: (s: any) => { s.ticks = yAll.map(v => ({ value: v })); },
          afterFit: (s: any) => { s.width = p.plot.l - p.canvas.x; },
          ticks: {
            autoSkip: false, padding: 1.5, color: '#4D4D4D', font: tickFont,
            callback: (v: number) => (isIn(yMajors, v) ? String(v) : ''),
          },
          grid: gridFor(yMajors),
          border: { display: false },
        },
      },
    },
    plugins: [decor(p)],
  };
}

function PanelChart({ p }: { p: Panel }) {
  const ref = useRef<HTMLCanvasElement>(null);
  useEffect(() => {
    if (!ref.current) return;
    const chart = new Chart(ref.current, buildConfig(p));
    return () => chart.destroy();
  }, [p]);
  return (
    <canvas
      ref={ref}
      width={p.canvas.w}
      height={p.canvas.h}
      style={{ position: 'absolute', left: p.canvas.x, top: p.canvas.y, width: p.canvas.w, height: p.canvas.h }}
    />
  );
}

export default function App() {
  return (
    <div style={{ position: 'absolute', left: 0, top: 0, width: 685, height: 539, background: '#FFFFFF', overflow: 'hidden' }}>
      {panels.map(p => <PanelChart key={p.key} p={p} />)}
    </div>
  );
}
